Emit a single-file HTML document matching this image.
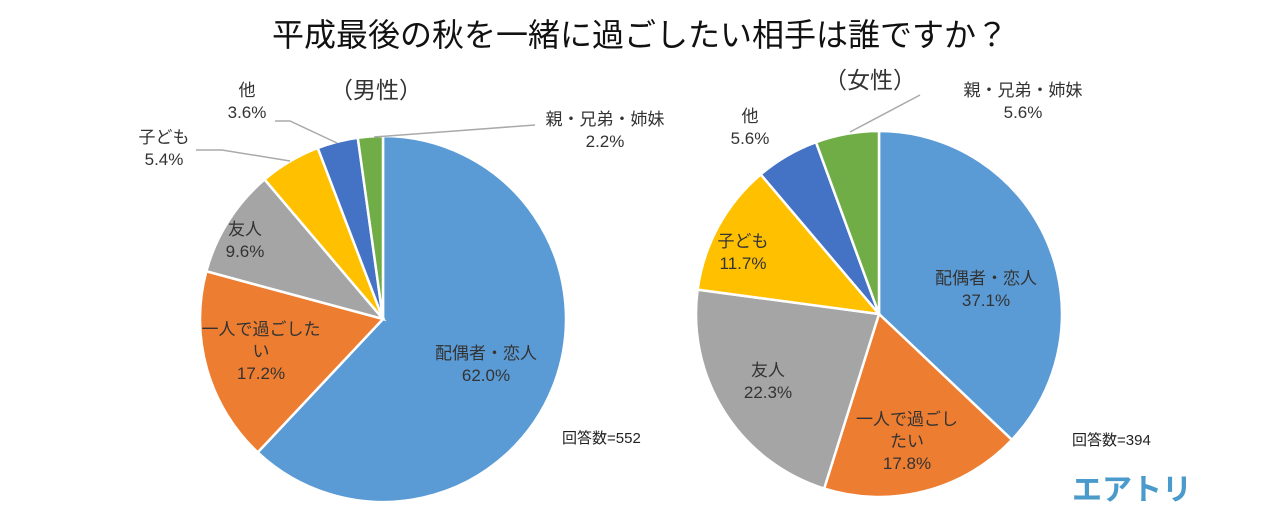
<!DOCTYPE html>
<html><head><meta charset="utf-8"><style>
body{margin:0;background:#fff;}
svg{display:block;font-family:"Liberation Sans","Noto Sans CJK JP",sans-serif;}
</style></head><body>
<svg id="c" width="1284" height="521" viewBox="0 0 1284 521">
<text x="640" y="46" font-size="32" text-anchor="middle" fill="#111">平成最後の秋を一緒に過ごしたい相手は誰ですか？</text>
<text x="376" y="98" font-size="23" text-anchor="middle" fill="#333">（男性）</text>
<text x="870" y="88" font-size="23" text-anchor="middle" fill="#333">（女性）</text>
<text x="562" y="443" font-size="15" fill="#222">回答数=552</text>
<text x="1072" y="445" font-size="15" fill="#222">回答数=394</text>
<text x="1072" y="500" font-size="30" font-weight="bold" fill="#4a9acb">エアトリ</text>
<g id="lines" stroke="#aaa" stroke-width="1.5" fill="none">
<polyline points="275,121 290,121 337,143"/>
<polyline points="196,150 222,150 290,161"/>
<polyline points="374,137 535,125"/>
<polyline points="850,132 920,95"/>
</g>
</svg>
<script>
const categories=["配偶者・恋人","一人で過ごしたい","友人","子ども","他","親・兄弟・姉妹"];
const maleValues=[62.0,17.2,9.6,5.4,3.6,2.2];
const femaleValues=[37.1,17.8,22.3,11.7,5.6,5.6];
const colors=["#5B9BD5","#ED7D31","#A5A5A5","#FFC000","#4472C4","#70AD47"];
const NS="http://www.w3.org/2000/svg";
const svg=document.getElementById('c');
function pt(cx,cy,r,f){const a=f*2*Math.PI;return [cx+r*Math.sin(a),cy-r*Math.cos(a)];}
function drawPie(vals,cx,cy,r,prefix,labels){
  const tot=vals.reduce((a,b)=>a+b,0);let acc=0;
  vals.forEach((v,i)=>{
    const f0=acc/tot,f1=(acc+v)/tot;acc+=v;
    const p0=pt(cx,cy,r,f0),p1=pt(cx,cy,r,f1);
    const large=(f1-f0)>0.5?1:0;
    const p=document.createElementNS(NS,'path');
    p.setAttribute('d',`M${cx},${cy} L${p0[0]},${p0[1]} A${r},${r} 0 ${large} 1 ${p1[0]},${p1[1]} Z`);
    p.setAttribute('fill',colors[i]);p.setAttribute('stroke','#fff');p.setAttribute('stroke-width','2.5');
    
    
    svg.appendChild(p);
  });
  labels.forEach((l,i)=>{
    l.lines.concat([vals[i].toFixed(1)+'%']).forEach((s,j)=>{
      const t=document.createElementNS(NS,'text');
      t.setAttribute('x',l.x);t.setAttribute('y',l.y+j*22);
      t.setAttribute('font-size','17');t.setAttribute('text-anchor','middle');t.setAttribute('fill','#333');
      t.textContent=s;
      
      
      svg.appendChild(t);
    });
  });
}
drawPie(maleValues,383,319,183,'male',[
 {x:486,y:359,lines:["配偶者・恋人"]},
 {x:261,y:335,lines:["一人で過ごした","い"]},
 {x:245,y:235,lines:["友人"]},
 {x:164,y:143,lines:["子ども"]},
 {x:247,y:96,lines:["他"]},
 {x:605,y:125,lines:["親・兄弟・姉妹"]}]);
drawPie(femaleValues,879,314,183,'female',[
 {x:986,y:284,lines:["配偶者・恋人"]},
 {x:907,y:425,lines:["一人で過ごし","たい"]},
 {x:768,y:376,lines:["友人"]},
 {x:743,y:247,lines:["子ども"]},
 {x:750,y:122,lines:["他"]},
 {x:1023,y:96,lines:["親・兄弟・姉妹"]}]);
svg.appendChild(document.getElementById('lines'));
</script>
</body></html>
